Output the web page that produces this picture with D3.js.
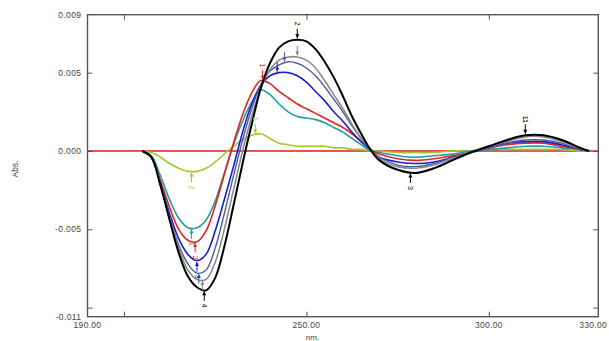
<!DOCTYPE html>
<html>
<head>
<meta charset="utf-8">
<script src="https://cdn.jsdelivr.net/npm/d3@7"></script>
<style>
  html, body { margin: 0; padding: 0; background: #fff; }
  svg { display: block; }
  text { font-family: "Liberation Sans", Arial, sans-serif; }
</style>
</head>
<body>
<svg id="chart" width="609" height="341"></svg>
<script>
// ---------------- DATA ----------------
const wavelengths = [205, 207.5, 210, 212.5, 215, 217.5, 220, 222.5, 225, 227.5, 230, 232.5, 235, 237.5, 240, 242.5, 245, 247.5, 250, 252.5, 255, 257.5, 260, 262.5, 265, 267.5, 270, 275, 280, 285, 290, 295, 300, 305, 310, 315, 320, 325, 327.5];

const absYellowGreen = [0, -0.0001, -0.0004, -0.0008, -0.0011, -0.0013, -0.0013, -0.0011, -0.0007, -0.0002, 0.0003, 0.0007, 0.0010, 0.0011, 0.0008, 0.0005, 0.0004, 0.0003, 0.0003, 0.0003, 0.0003, 0.0002, 0.0002, 0.0001, 0.0001, 0.0000, 0, -0.0001, -0.0001, -0.0001, 0, 0, 0.0001, 0.0001, 0.0001, 0.0001, 0.0001, 0, 0];
const absTeal = [0, -0.0003, -0.0016, -0.0031, -0.0043, -0.0049, -0.0049, -0.0044, -0.0032, -0.0014, 0.0004, 0.0019, 0.0031, 0.0039, 0.0036, 0.0030, 0.0025, 0.0022, 0.0021, 0.0020, 0.0018, 0.0015, 0.0012, 0.0008, 0.0004, 0.0000, -0.0001, -0.0003, -0.0004, -0.0003, -0.0002, 0, 0.0001, 0.0002, 0.0003, 0.0003, 0.0002, 0.0001, 0];
const absRed = [0, -0.0004, -0.0019, -0.0036, -0.0050, -0.0057, -0.0058, -0.0051, -0.0035, -0.0015, 0.0005, 0.0023, 0.0037, 0.0045, 0.0043, 0.0038, 0.0034, 0.0030, 0.0027, 0.0024, 0.0021, 0.0018, 0.0015, 0.0011, 0.0006, 0.0001, -0.0002, -0.0005, -0.0006, -0.0005, -0.0003, -0.0001, 0.0002, 0.0004, 0.0005, 0.0005, 0.0003, 0.0001, 0];
const absBlue = [0, -0.0004, -0.0021, -0.0040, -0.0056, -0.0066, -0.0070, -0.0066, -0.0051, -0.0031, -0.0010, 0.0012, 0.0030, 0.0042, 0.0048, 0.0050, 0.0050, 0.0048, 0.0044, 0.0038, 0.0032, 0.0025, 0.0019, 0.0012, 0.0006, 0.0001, -0.0004, -0.0007, -0.0008, -0.0007, -0.0004, -0.0001, 0.0002, 0.0005, 0.0006, 0.0006, 0.0004, 0.0001, 0];
const absSlate = [0, -0.0004, -0.0022, -0.0042, -0.0060, -0.0072, -0.0078, -0.0076, -0.0062, -0.0040, -0.0016, 0.0007, 0.0027, 0.0042, 0.0051, 0.0055, 0.0057, 0.0056, 0.0053, 0.0048, 0.0041, 0.0033, 0.0025, 0.0016, 0.0008, 0.0001, -0.0004, -0.0009, -0.0010, -0.0008, -0.0004, -0.0001, 0.0002, 0.0005, 0.0007, 0.0007, 0.0005, 0.0001, 0];
const absGray = [0, -0.0004, -0.0022, -0.0043, -0.0062, -0.0076, -0.0082, -0.0082, -0.0071, -0.0050, -0.0025, 0.0000, 0.0022, 0.0040, 0.0052, 0.0058, 0.0060, 0.0060, 0.0058, 0.0053, 0.0045, 0.0036, 0.0027, 0.0017, 0.0008, 0.0001, -0.0005, -0.0010, -0.0011, -0.0009, -0.0005, -0.0001, 0.0003, 0.0006, 0.0009, 0.0009, 0.0006, 0.0002, 0];
const absBlack = [0, -0.0004, -0.0022, -0.0044, -0.0065, -0.0080, -0.0087, -0.0089, -0.0081, -0.0061, -0.0035, -0.0008, 0.0017, 0.0040, 0.0056, 0.0066, 0.0070, 0.0071, 0.0070, 0.0065, 0.0057, 0.0047, 0.0035, 0.0022, 0.0011, 0.0001, -0.0006, -0.0012, -0.0014, -0.0011, -0.0006, -0.0001, 0.0003, 0.0007, 0.0010, 0.0010, 0.0007, 0.0002, 0];

const seriesNames  = ["yellowgreen", "teal", "red", "blue", "slate", "gray", "black"];
const seriesValues = [absYellowGreen, absTeal, absRed, absBlue, absSlate, absGray, absBlack];
const seriesColors = ["#a6c62c", "#1e9e9c", "#e52420", "#1c1cd2", "#4c5c9c", "#8a8a8a", "#000000"];
const seriesWidths = [1.6, 1.6, 1.6, 1.6, 1.4, 1.6, 2];

// axis extents and ticks
const xDomain = [190, 330];
const yDomain = [-0.01058, 0.0087];
const xTickMarks = [200, 250, 300];
const xTickLabels = [190, 250, 300, 330];
const yTickMarks = [0.005, 0, -0.005, -0.010];
const yTickLabels = [0.0087, 0.005, 0, -0.005, -0.01058];
const xTitle = "nm.";
const yTitle = "Abs.";

// peak / valley markers: [series index, wavelength, label]
const peakMarks = [[6, 247.5, "2"], [5, 247.5, ""], [4, 244, ""], [3, 242, ""], [2, 238, "1"], [0, 236, "1"]];
const valleyMarks = [[6, 222, "4"], [5, 221.5, ""], [4, 220.5, ""], [3, 220, "3"], [2, 219.5, "2"], [1, 218.5, "1"], [0, 218.5, "2"], [6, 278.5, "3"]];
const sidePeakMarks = [[6, 310, "11"]];

// ---------------- DRAW ----------------
const svg = d3.select("#chart");
const pLeft = 87.5, pRight = 598.3, pTop = 14.7, pBottom = 316.7;

const x = d3.scaleLinear().domain(xDomain).range([pLeft, pRight]);
const y = d3.scaleLinear().domain(yDomain).range([pBottom, pTop]);

const loc = d3.formatLocale({decimal: ".", thousands: ",", grouping: [3], currency: ["", ""], minus: "-"});
const fy = loc.format(".3f");
const fx = loc.format(".2f");

svg.append("rect").attr("width", 609).attr("height", 341).attr("fill", "#fff");

// zero reference line
svg.append("line")
  .attr("x1", x(xDomain[0])).attr("x2", x(xDomain[1]))
  .attr("y1", y(0)).attr("y2", y(0))
  .attr("stroke", "#d4211c").attr("stroke-width", 1.6);

// curves
const line = d3.line()
  .x((d, i) => x(wavelengths[i]))
  .y(d => y(d))
  .curve(d3.curveCatmullRom.alpha(0.5));

seriesValues.forEach((vals, k) => {
  svg.append("path")
    .attr("d", line(vals))
    .attr("fill", "none")
    .attr("stroke", seriesColors[k])
    .attr("stroke-width", seriesWidths[k])
    .attr("stroke-linejoin", "round");
});

function valueAt(k, nm) {
  const vals = seriesValues[k];
  for (let i = 0; i < wavelengths.length - 1; i++) {
    if (nm >= wavelengths[i] && nm <= wavelengths[i + 1]) {
      const t = (nm - wavelengths[i]) / (wavelengths[i + 1] - wavelengths[i]);
      return vals[i] + t * (vals[i + 1] - vals[i]);
    }
  }
  return 0;
}

function marker(k, nm, label, dir) {
  const cx = x(nm), cy = y(valueAt(k, nm));
  const col = seriesColors[k];
  const tipY = cy + dir * 1.5;
  const tailY = cy + dir * 11;
  svg.append("line").attr("x1", cx).attr("x2", cx).attr("y1", tailY).attr("y2", tipY)
    .attr("stroke", col).attr("stroke-width", 1);
  svg.append("path")
    .attr("d", `M${cx},${tipY} L${cx - 2},${tipY + dir * 4} L${cx + 2},${tipY + dir * 4} Z`)
    .attr("fill", col);
  if (label) {
    const ly = cy + dir * 16;
    svg.append("text")
      .attr("transform", `translate(${cx},${ly}) rotate(90)`)
      .attr("text-anchor", "middle").attr("dy", "0.35em")
      .attr("font-size", 7).attr("fill", col)
      .text(label);
  }
}
peakMarks.forEach(m => marker(m[0], m[1], m[2], -1));
valleyMarks.forEach(m => marker(m[0], m[1], m[2], 1));
sidePeakMarks.forEach(m => marker(m[0], m[1], m[2], -1));

// frame
svg.append("rect")
  .attr("x", pLeft).attr("y", pTop).attr("width", pRight - pLeft).attr("height", pBottom - pTop)
  .attr("fill", "none").attr("stroke", "#555").attr("stroke-width", 1.4);

const axisCol = "#555";
svg.append("g").attr("transform", `translate(${pLeft},0)`)
  .call(d3.axisRight(y).tickValues(yTickMarks).tickSize(5).tickFormat(""))
  .call(g => g.select(".domain").remove())
  .call(g => g.selectAll("line").attr("stroke", axisCol));
svg.append("g").attr("transform", `translate(${pRight},0)`)
  .call(d3.axisLeft(y).tickValues(yTickMarks).tickSize(5).tickFormat(""))
  .call(g => g.select(".domain").remove())
  .call(g => g.selectAll("line").attr("stroke", axisCol));
svg.append("g").attr("transform", `translate(0,${pBottom})`)
  .call(d3.axisTop(x).tickValues(xTickMarks).tickSize(5).tickFormat(""))
  .call(g => g.select(".domain").remove())
  .call(g => g.selectAll("line").attr("stroke", axisCol));
svg.append("g").attr("transform", `translate(0,${pTop})`)
  .call(d3.axisBottom(x).tickValues(xTickMarks).tickSize(5).tickFormat(""))
  .call(g => g.select(".domain").remove())
  .call(g => g.selectAll("line").attr("stroke", axisCol));

// y labels
svg.append("g").selectAll("text").data(yTickLabels).join("text")
  .attr("x", pLeft - 6).attr("y", d => y(d)).attr("dy", "0.35em")
  .attr("text-anchor", "end").attr("font-size", 8.5).attr("fill", "#444")
  .attr("letter-spacing", 0.4)
  .text(d => fy(d));

// x labels (last one kept inside the window edge)
svg.append("g").selectAll("text").data(xTickLabels).join("text")
  .attr("x", (d, i) => i === xTickLabels.length - 1 ? 607 : x(d))
  .attr("y", pBottom + 11.5)
  .attr("text-anchor", (d, i) => i === xTickLabels.length - 1 ? "end" : "middle")
  .attr("font-size", 8.5).attr("fill", "#444")
  .attr("letter-spacing", 0.3)
  .text(d => fx(d));

// titles
svg.append("text").attr("x", x(250) + 6).attr("y", 339.5)
  .attr("text-anchor", "middle").attr("font-size", 8).attr("fill", "#444").text(xTitle);
svg.append("text").attr("transform", `translate(18,${y(0) + 18}) rotate(-90)`)
  .attr("text-anchor", "middle").attr("font-size", 8.5).attr("fill", "#444").text(yTitle);
</script>
</body>
</html>
